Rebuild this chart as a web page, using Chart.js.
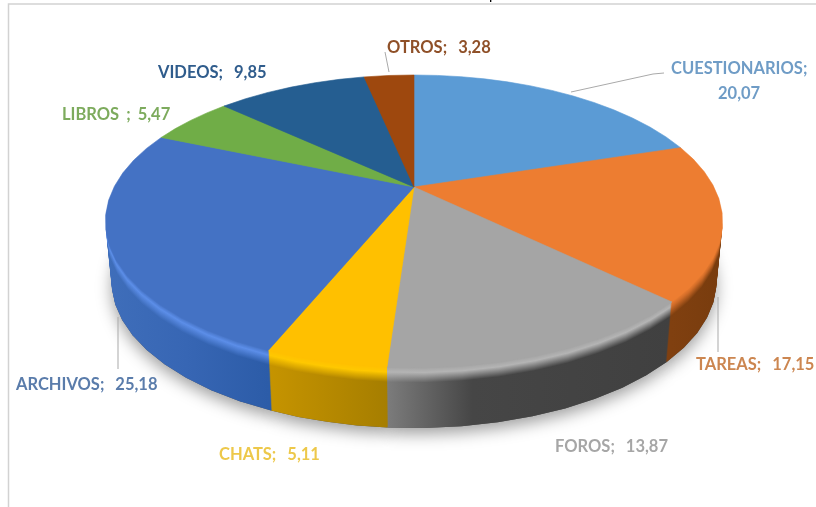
<!DOCTYPE html>
<html>
<head>
<meta charset="utf-8">
<style>
  html, body { margin: 0; padding: 0; background: #fff; overflow: hidden; }
  canvas { display: block; }
</style>
<script src="https://cdn.jsdelivr.net/npm/chart.js@4"></script>
</head>
<body>
<canvas id="pie" width="816" height="507"></canvas>
<script>
const categories = ['CUESTIONARIOS', 'TAREAS', 'FOROS', 'CHATS', 'ARCHIVOS', 'LIBROS ', 'VIDEOS', 'OTROS'];
const shares = [20.07, 17.15, 13.87, 5.11, 25.18, 5.47, 9.85, 3.28];
const faceColors = ['#5b9bd5', '#ed7d31', '#a5a5a5', '#ffc000', '#4472c4', '#70ad47', '#255e91', '#9e480e'];
const rimColors = ['#6fb0ea', '#d06c28', '#b4b4b4', '#ffc800', '#5c8ee8', '#80c055', '#2f6ea8', '#b0520f'];
const labelColors = ['#6f9cc6', '#cc8650', '#a6a6a6', '#edc84a', '#5a7cab', '#7dab5d', '#2f5c8c', '#8f5028'];
// Horizontal shading of each outer wall, as [stop, colour] pairs
const wallStops = [
  [[0, '#3f6f9f'], [1, '#3f6f9f']],
  [[0, '#804010'], [1, '#783c0e']],
  [[0, '#7c7c7c'], [0.3, '#464646'], [1, '#404040']],
  [[0, '#c69400'], [1, '#a67e00']],
  [[0, '#3f6eba'], [0.5, '#3766b4'], [1, '#2c5ca8']],
  [[0, '#4a7530'], [1, '#4a7530']],
  [[0, '#1a4468'], [1, '#1a4468']],
  [[0, '#6a3009'], [1, '#6a3009']]
];
// Label anchors: left edge and baseline of each line of text
const labelPlaces = [
  { lines: [[671, 74, 'name'], [718, 98.5, 'value']] },
  { lines: [[696, 370, 'both']] },
  { lines: [[555, 452, 'both']] },
  { lines: [[219, 460, 'both']] },
  { lines: [[16, 390, 'both']] },
  { lines: [[62, 120, 'both']] },
  { lines: [[158, 78, 'both']] },
  { lines: [[387, 53, 'both']] }
];
// Extra gap after the semicolon of each label
const labelGaps = [7, 7, 7, 7, 7, 3, 7, 7];
const leaderLines = [
  [[664, 73], [653, 74], [571, 92]],
  [[718, 297], [718, 352]],
  [[118, 317], [118, 369]],
  [[385, 52], [389, 72]]
];

const WALL_HEIGHT = 60;
const WIDTH_FACTOR = 1.604;   // horizontal stretch of the tilted disc relative to the layout radius
const DEPTH_FACTOR = 0.74;    // vertical stretch of the tilted disc
const TILT = 0.2355;          // strength of the foreshortening towards the back
const WALL_TAPER = 0.02;      // lower disc is slightly narrower than the upper one
const ARC_STEPS = 6;          // degrees per polygon segment

function toRgb(hex) {
  return [1, 3, 5].map(i => parseInt(hex.slice(i, i + 2), 16));
}
function mix(a, b, f) {
  const A = toRgb(a), B = toRgb(b);
  return '#' + A.map((c, i) => Math.round(c + (B[i] - c) * f).toString(16).padStart(2, '0')).join('');
}
function shade(i, t, base) {
  if (t <= 0) return faceColors[i];
  if (t < 5) return mix(faceColors[i], rimColors[i], t / 5);
  if (t < 15) return mix(rimColors[i], base, (t - 5) / 10);
  return base;
}

function projector(arc) {
  const d = arc.outerRadius * WIDTH_FACTOR;
  const a = arc.outerRadius * DEPTH_FACTOR;
  return function (angle, depth) {
    const u = Math.cos(angle), v = Math.sin(angle);
    const den = 1 - TILT * v;
    const taper = 1 - WALL_TAPER * depth / WALL_HEIGHT;
    return [arc.x + taper * d * u / den, arc.y + a * v / den + depth];
  };
}

function traceSector(ctx, arc, depth) {
  const project = projector(arc);
  const span = arc.endAngle - arc.startAngle;
  const steps = Math.max(2, Math.ceil(span / (ARC_STEPS * Math.PI / 180)));
  ctx.beginPath();
  ctx.moveTo(arc.x, arc.y + depth);
  for (let k = 0; k <= steps; k++) {
    const p = project(arc.startAngle + span * k / steps, depth);
    ctx.lineTo(p[0], p[1]);
  }
  ctx.closePath();
}

// Horizontal extent of a sector's outer edge, used to lay the wall shading across it
function sectorExtent(arc) {
  const project = projector(arc);
  let lo = Infinity, hi = -Infinity;
  const span = arc.endAngle - arc.startAngle;
  for (let k = 0; k <= 24; k++) {
    const x = project(arc.startAngle + span * k / 24, 0)[0];
    lo = Math.min(lo, x); hi = Math.max(hi, x);
  }
  return [lo, hi];
}

const frameAndTitle = {
  id: 'frameAndTitle',
  beforeDraw(chart) {
    const ctx = chart.ctx;
    ctx.save();
    ctx.strokeStyle = '#d2d2d2';
    ctx.lineWidth = 1.5;
    ctx.beginPath();
    ctx.moveTo(8.5, 507);
    ctx.lineTo(8.5, 4);
    ctx.lineTo(816, 4);
    ctx.stroke();
    ctx.fillStyle = '#000';
    ctx.font = '15px "Liberation Sans"';
    ctx.fillText('p', 489, -1);
    ctx.restore();
  }
};

const tiltedPie = {
  id: 'tiltedPie',
  beforeDatasetsDraw(chart) {
    const ctx = chart.ctx;
    const arcs = chart.getDatasetMeta(0).data;
    ctx.save();

    // Soft shadow thrown under the whole disc
    ctx.save();
    ctx.shadowColor = 'rgba(0,0,0,0.38)';
    ctx.shadowBlur = 16;
    ctx.shadowOffsetY = 6;
    ctx.fillStyle = '#555';
    arcs.forEach(arc => { traceSector(ctx, arc, WALL_HEIGHT); ctx.fill(); });
    ctx.restore();

    // Leader lines sit behind the disc edge
    ctx.strokeStyle = '#a9a9a9';
    ctx.lineWidth = 1;
    leaderLines.forEach(points => {
      ctx.beginPath();
      points.forEach((p, k) => k ? ctx.lineTo(p[0], p[1]) : ctx.moveTo(p[0], p[1]));
      ctx.stroke();
    });

    // Stack the sector outlines from the base up to form the wall and bevel
    for (let t = WALL_HEIGHT; t >= 0; t--) {
      arcs.forEach((arc, i) => {
        const [lo, hi] = sectorExtent(arc);
        const gradient = ctx.createLinearGradient(lo, 0, hi, 0);
        wallStops[i].forEach(([stop, colour]) => gradient.addColorStop(stop, shade(i, t, colour)));
        traceSector(ctx, arc, t);
        ctx.fillStyle = gradient;
        ctx.fill();
        if (t === 0) {
          ctx.strokeStyle = faceColors[i];
          ctx.lineWidth = 0.6;
          ctx.stroke();
        }
      });
    }
    ctx.restore();
    return false;
  },
  // The datasets hook above replaces normal arc drawing, so labels go in the final pass
  afterDraw(chart) {
    const ctx = chart.ctx;
    ctx.save();
    ctx.font = 'bold 16.5px Lato';
    ctx.textBaseline = 'alphabetic';
    categories.forEach((name, i) => {
      const value = shares[i].toFixed(2).replace('.', ',');
      ctx.fillStyle = labelColors[i];
      ctx.wordSpacing = labelGaps[i] + 'px';
      labelPlaces[i].lines.forEach(([x, y, part]) => {
        const text = part === 'name' ? name + ';' : part === 'value' ? value : name + '; ' + value;
        ctx.fillText(text, x, y);
      });
    });
    ctx.restore();
  }
};

new Chart(document.getElementById('pie'), {
  type: 'pie',
  data: {
    labels: categories,
    datasets: [{ data: shares, backgroundColor: faceColors, borderWidth: 0 }]
  },
  options: {
    responsive: false,
    animation: false,
    layout: { padding: { left: 12, right: 0, top: 0, bottom: 133 } },
    plugins: { legend: { display: false }, tooltip: { enabled: false } }
  },
  plugins: [frameAndTitle, tiltedPie]
});
</script>
</body>
</html>
